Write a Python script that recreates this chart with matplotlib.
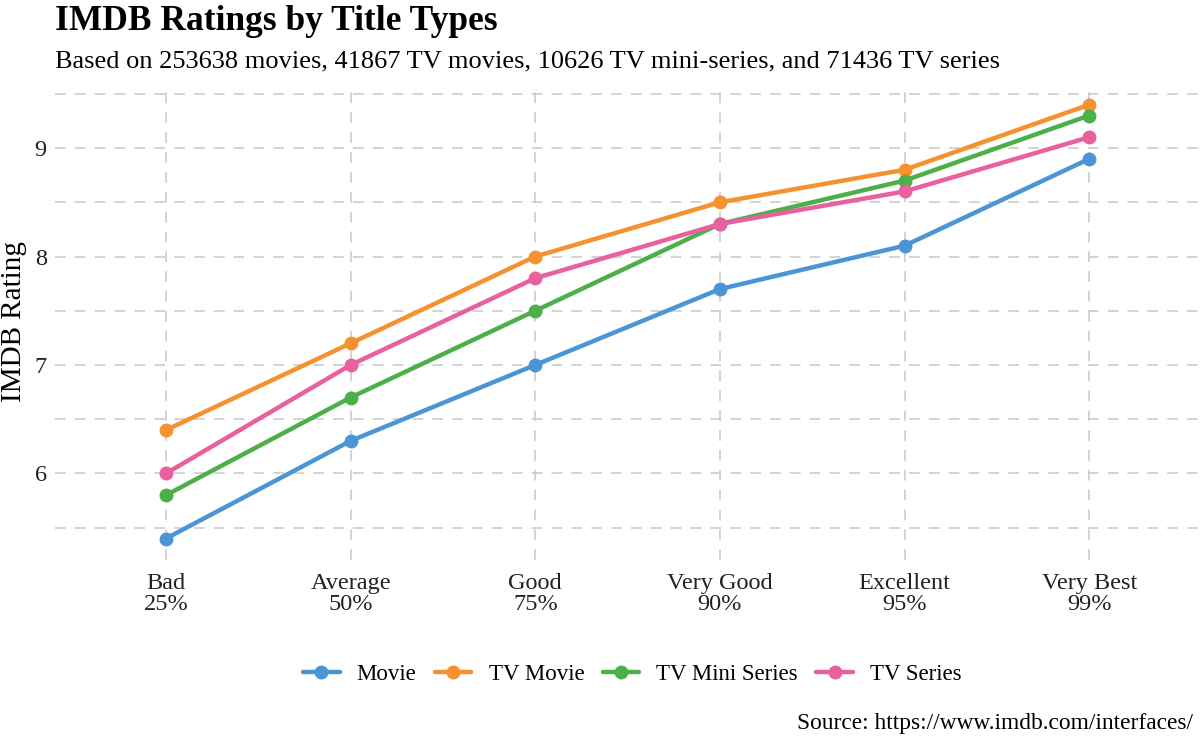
import numpy as np
import matplotlib
matplotlib.use("Agg")
import matplotlib.pyplot as plt
from matplotlib.ticker import MultipleLocator

# ── Données ───────────────────────────────────────────────────────────────────
categories = ["Bad\n25%", "Average\n50%", "Good\n75%",
              "Very Good\n90%", "Excellent\n95%", "Very Best\n99%"]
movie = [5.4, 6.3, 7.0, 7.7, 8.1, 8.9]
tv_movie = [6.4, 7.2, 8.0, 8.5, 8.8, 9.4]
tv_mini_series = [5.8, 6.7, 7.5, 8.3, 8.7, 9.3]
tv_series = [6.0, 7.0, 7.8, 8.3, 8.6, 9.1]

series = [
    ("Movie", movie, "#4B94D6"),
    ("TV Movie", tv_movie, "#F5922F"),
    ("TV Mini Series", tv_mini_series, "#4DAF4A"),
    ("TV Series", tv_series, "#E8609D"),
]

plt.rcParams["font.family"] = ["Liberation Serif", "DejaVu Serif"]

fig = plt.figure(figsize=(12, 7.41), dpi=100)
ax = fig.add_axes([0.046, 0.244, 0.954, 0.644])

x = np.arange(len(categories))
for nom, vals, coul in series:
    ax.plot(x, vals, "-o", color=coul, lw=3.2, ms=9, label=nom,
            solid_capstyle="round", zorder=3)

ax.set_xlim(-0.6, len(categories) - 0.4)
ax.set_ylim(5.2, 9.6)
ax.set_xticks(x)
ax.set_xticklabels(categories, fontsize=17.5, linespacing=1.0)
ax.yaxis.set_major_locator(MultipleLocator(1))
ax.yaxis.set_minor_locator(MultipleLocator(0.5))
ax.tick_params(axis="both", length=0, labelsize=17.5, colors="#222222")
ax.tick_params(axis="x", pad=9)
ax.tick_params(axis="y", pad=6)
ax.tick_params(which="minor", length=0)

# grilles pointillées (majeures + mineures en y)
ax.grid(True, which="both", axis="y", linestyle=(0, (7, 6)),
        color="#C8C8C8", lw=1.1)
ax.grid(True, which="major", axis="x", linestyle=(0, (7, 6)),
        color="#C8C8C8", lw=1.1)
for s in ax.spines.values():
    s.set_visible(False)

ax.set_ylabel("IMDB Rating", fontsize=21)
ax.yaxis.set_label_coords(-0.025, 0.5)

fig.text(0.046, 0.993, "IMDB Ratings by Title Types", fontsize=25.5,
         fontweight="bold", va="top", ha="left")
fig.text(0.046, 0.932,
         "Based on 253638 movies, 41867 TV movies, 10626 TV mini-series, "
         "and 71436 TV series",
         fontsize=19, va="top", ha="left")

fig.legend(loc="center", bbox_to_anchor=(0.527, 0.09), ncol=4,
           frameon=False, fontsize=16.5, handlelength=1.6,
           columnspacing=0.8, handletextpad=0.75)

fig.text(0.994, 0.01, "Source: https://www.imdb.com/interfaces/",
         fontsize=16.8, ha="right", va="bottom")

fig.savefig("out.png", dpi=100)
